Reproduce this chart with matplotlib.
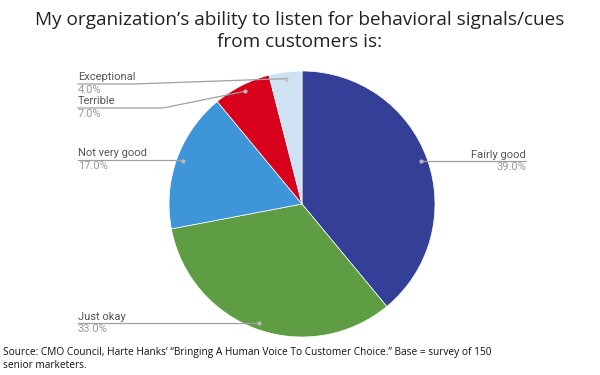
import numpy as np
import matplotlib
matplotlib.use("Agg")
import matplotlib.pyplot as plt

TITLE = "My organization\u2019s ability to listen for behavioral signals/cues\nfrom customers is:"
SOURCE = ("Source: CMO Council, Harte Hanks\u2019 \u201cBringing A Human Voice To Customer Choice.\u201d "
          "Base = survey of 150\nsenior marketers.")

labels = ["Fairly good", "Just okay", "Not very good", "Terrible", "Exceptional"]
values = [39.0, 33.0, 17.0, 7.0, 4.0]
colors = ["#343f98", "#5e9d44", "#3e96d8", "#d8001a", "#cfe2f4"]

# layout in pixel space (y measured from the top of the figure)
W, H = 600, 375
CX, CY, R = 302, 204, 133
label_y = [161, 323, 160, 108, 84]      # y of the underline for each label
elbow_x = [None, None, None, 163, 133]  # bend point of leader line (None = straight)
LEFT_X, RIGHT_X = 78, 526


def main():
    fig = plt.figure(figsize=(6, 3.75), dpi=100)
    ax = fig.add_axes([0, 0, 1, 1])

    ax.pie(values, colors=colors, startangle=90, counterclock=False,
           center=(CX, H - CY), radius=R, frame=True,
           wedgeprops=dict(linewidth=0.5, edgecolor="white"))
    ax.set_xlim(0, W)
    ax.set_ylim(0, H)
    ax.set_aspect("equal")
    ax.axis("off")

    # leader lines + labels
    total = sum(values)
    start = 90.0
    for lab, v, ly, ex in zip(labels, values, label_y, elbow_x):
        sweep = 360.0 * v / total
        mid = np.deg2rad(start - sweep / 2)
        start -= sweep
        dx = CX + 0.95 * R * np.cos(mid)
        dy = CY - 0.95 * R * np.sin(mid)
        right = np.cos(mid) > 0
        tx = RIGHT_X if right else LEFT_X
        if ex is None:
            xs, ys = [dx, tx], [ly, ly]
        else:
            xs, ys = [dx, ex, tx], [dy, ly, ly]
        ax.plot(xs, [H - y for y in ys], color="#a0a0a0", lw=0.9)
        ax.plot(dx, H - dy, "o", ms=2, color="#bbbbbb")
        ha = "right" if right else "left"
        ax.text(tx, H - ly + 1.5, lab, ha=ha, va="bottom", fontsize=8,
                color="#555555", family="Roboto")
        ax.text(tx, H - ly - 1, f"{v:.1f}%", ha=ha, va="top", fontsize=8,
                color="#9a9a9a", family="Roboto")

    fig.text(0.5, 1 - 31 / H, TITLE, ha="center", va="center", fontsize=13.7,
             color="#222222", family="Open Sans", linespacing=1.3)
    fig.text(3 / W, 1 - 359 / H, SOURCE, ha="left", va="center", fontsize=7.3,
             color="#111111", family="Open Sans", linespacing=1.25)

    fig.savefig("out.png", dpi=100)


if __name__ == "__main__":
    main()
